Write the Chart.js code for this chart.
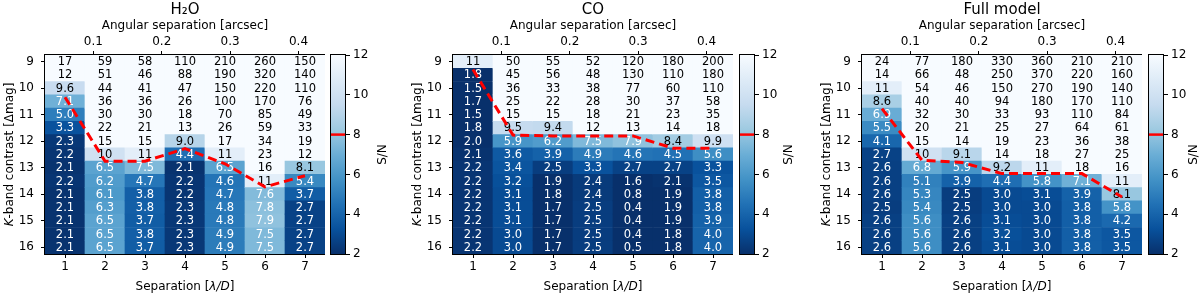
<!DOCTYPE html>
<html>
<head>
<meta charset="utf-8">
<script src="https://cdn.jsdelivr.net/npm/chart.js@4.4.0/dist/chart.umd.min.js"></script>
<style>
  body { margin: 0; background: #fff; width: 1200px; height: 294px; overflow: hidden; position: relative; }
  canvas { position: absolute; top: 0; }
</style>
</head>
<body>
<canvas id="map1" width="325" height="294" style="left:0px;width:325px;height:294px"></canvas>
<canvas id="bar1" width="70" height="294" style="left:330px;width:70px;height:294px"></canvas>
<canvas id="map2" width="325" height="294" style="left:408px;width:325px;height:294px"></canvas>
<canvas id="bar2" width="70" height="294" style="left:739px;width:70px;height:294px"></canvas>
<canvas id="map3" width="325" height="294" style="left:817px;width:325px;height:294px"></canvas>
<canvas id="bar3" width="52" height="294" style="left:1148px;width:52px;height:294px"></canvas>
<script>
// axes
const separations = [1, 2, 3, 4, 5, 6, 7];
const contrasts = [9, 9.5, 10, 10.5, 11, 11.5, 12, 12.5, 13, 13.5, 14, 14.5, 15, 15.5, 16];
const xTicks = [1, 2, 3, 4, 5, 6, 7];
const yTicks = [9, 10, 11, 12, 13, 14, 15, 16];
const angTicks = [0.1, 0.2, 0.3, 0.4];
const cbTicks = [2, 4, 6, 8, 10, 12];
const lambdaOverD = 0.0585; // arcsec per lambda/D
const snMin = 2, snMax = 12, snLevel = 8;

// S/N per column (separation 1..7), rows = contrast 9..16
const h2oSN = [
  [17, 12, 9.6, 7.1, 5.0, 3.3, 2.3, 2.2, 2.1, 2.2, 2.1, 2.1, 2.1, 2.1, 2.1],
  [59, 51, 44, 36, 30, 22, 15, 10, 6.5, 6.2, 6.1, 6.3, 6.5, 6.5, 6.5],
  [58, 46, 41, 36, 30, 21, 15, 11, 7.5, 4.7, 3.8, 3.8, 3.7, 3.8, 3.7],
  [110, 88, 47, 26, 18, 13, 9.0, 4.4, 2.1, 2.2, 2.2, 2.3, 2.3, 2.3, 2.3],
  [210, 190, 150, 100, 70, 26, 17, 11, 6.5, 4.6, 4.7, 4.8, 4.8, 4.9, 4.9],
  [260, 320, 220, 170, 85, 59, 34, 23, 16, 11, 7.6, 7.8, 7.9, 7.5, 7.5],
  [150, 140, 110, 76, 49, 33, 19, 12, 8.1, 5.4, 3.7, 2.7, 2.7, 2.7, 2.7]
];
const coSN = [
  [11, 1.8, 1.5, 1.7, 1.5, 1.8, 2.0, 2.1, 2.2, 2.2, 2.2, 2.2, 2.2, 2.2, 2.2],
  [50, 45, 36, 25, 15, 9.5, 5.9, 3.6, 3.4, 3.2, 3.1, 3.1, 3.1, 3.0, 3.0],
  [55, 56, 33, 22, 15, 9.4, 6.2, 3.9, 2.5, 1.9, 1.8, 1.7, 1.7, 1.7, 1.7],
  [52, 48, 38, 28, 18, 12, 7.5, 4.9, 3.3, 2.4, 2.4, 2.5, 2.5, 2.5, 2.5],
  [120, 130, 77, 30, 21, 13, 7.9, 4.6, 2.7, 1.6, 0.8, 0.4, 0.4, 0.4, 0.5],
  [180, 110, 60, 37, 23, 14, 8.4, 4.5, 2.7, 2.1, 1.9, 1.9, 1.9, 1.8, 1.8],
  [200, 180, 110, 58, 35, 18, 9.9, 5.6, 3.3, 3.5, 3.8, 3.8, 3.9, 4.0, 4.0]
];
const fullSN = [
  [24, 14, 11, 8.6, 6.9, 5.5, 4.1, 2.7, 2.6, 2.6, 2.6, 2.5, 2.6, 2.6, 2.6],
  [77, 66, 54, 40, 32, 20, 15, 10, 6.8, 5.1, 5.3, 5.4, 5.6, 5.6, 5.6],
  [180, 48, 46, 40, 30, 21, 14, 9.1, 5.9, 3.9, 2.5, 2.5, 2.6, 2.6, 2.6],
  [330, 250, 150, 94, 33, 25, 19, 14, 9.2, 4.4, 3.0, 3.0, 3.1, 3.2, 3.1],
  [360, 370, 270, 180, 93, 27, 23, 18, 11, 5.8, 3.1, 3.0, 3.0, 3.0, 3.0],
  [210, 220, 190, 170, 110, 64, 36, 27, 18, 7.1, 3.9, 3.8, 3.8, 3.8, 3.8],
  [210, 160, 140, 110, 84, 61, 38, 25, 16, 11, 8.1, 5.8, 4.2, 3.5, 3.5]
];

// S/N = 8 contour, contrast at each separation
const h2oContour = [10.34, 12.75, 12.75, 12.28, 12.85, 13.72, 13.3];
const coContour = [9.3, 11.77, 11.8, 11.8, 11.8, 12.26, 12.26];
const fullContour = [10.77, 12.72, 12.8, 13.22, 13.22, 13.22, 14.1];

// matplotlib Blues, dark -> light
const blues = ['#08306b', '#08519c', '#2171b5', '#4292c6', '#6baed6', '#9ecae1', '#c6dbef', '#deebf7', '#f7fbff'];
const FONT = '"DejaVu Sans", sans-serif';

function hexRgb(h) {
  return [parseInt(h.slice(1, 3), 16), parseInt(h.slice(3, 5), 16), parseInt(h.slice(5, 7), 16)];
}
function snColor(v) {
  let t = (v - snMin) / (snMax - snMin);
  t = Math.min(1, Math.max(0, t));
  const p = t * (blues.length - 1);
  const i = Math.min(Math.floor(p), blues.length - 2);
  const f = p - i;
  const a = hexRgb(blues[i]), b = hexRgb(blues[i + 1]);
  return 'rgb(' + a.map((c, k) => Math.round(c + (b[k] - c) * f)).join(',') + ')';
}
function fmt(v) {
  return v < 10 ? v.toFixed(1) : String(Math.round(v));
}
function drawRuns(ctx, runs, x, y, angle) {
  ctx.save();
  ctx.translate(x, y);
  ctx.rotate(angle);
  ctx.textBaseline = 'alphabetic';
  ctx.textAlign = 'left';
  ctx.fillStyle = '#000';
  let w = 0;
  runs.forEach(r => { ctx.font = r.font; w += ctx.measureText(r.text).width; });
  let cx = -w / 2;
  runs.forEach(r => { ctx.font = r.font; ctx.fillText(r.text, cx, 0); cx += ctx.measureText(r.text).width; });
  ctx.restore();
}

const cellText = {
  id: 'cellText',
  afterDatasetDraw(chart, args) {
    if (args.index !== 0) return;
    const {ctx, scales: {x, y}} = chart;
    ctx.save();
    ctx.font = '11.5px ' + FONT;
    ctx.textAlign = 'center';
    ctx.textBaseline = 'middle';
    chart.data.datasets[0].data.forEach(d => {
      ctx.fillStyle = d.v < snLevel ? '#fff' : '#000';
      ctx.fillText(fmt(d.v), x.getPixelForValue(d.x), y.getPixelForValue(d.c) + 0.5);
    });
    ctx.restore();
  }
};

const frame = {
  id: 'frame',
  afterDraw(chart, args, opts) {
    const {ctx, chartArea: a} = chart;
    ctx.save();
    ctx.strokeStyle = '#000';
    ctx.lineWidth = 1;
    ctx.strokeRect(a.left - 0.5, a.top - 0.5, a.right - a.left + 1, a.bottom - a.top + 1);
    ctx.fillStyle = '#000';
    ctx.font = '15px ' + FONT;
    ctx.textAlign = 'center';
    ctx.textBaseline = 'alphabetic';
    ctx.fillText(opts.title, (a.left + a.right) / 2, 13.5);
    const norm = '12px ' + FONT, ital = 'italic 12px ' + FONT;
    drawRuns(ctx, [{text: 'Separation [', font: norm}, {text: 'λ/D', font: ital}, {text: ']', font: norm}],
      (a.left + a.right) / 2, 290, 0);
    drawRuns(ctx, [{text: 'K', font: ital}, {text: '-band contrast [Δmag]', font: norm}],
      13, (a.top + a.bottom) / 2, -Math.PI / 2);
    ctx.restore();
  }
};

const colorBar = {
  id: 'colorBar',
  afterDraw(chart, args, opts) {
    const {ctx, chartArea: a, scales: {y}} = chart;
    ctx.save();
    const g = ctx.createLinearGradient(0, y.getPixelForValue(snMin), 0, y.getPixelForValue(snMax));
    blues.forEach((c, i) => g.addColorStop(i / (blues.length - 1), c));
    ctx.fillStyle = g;
    ctx.fillRect(a.left, a.top, a.right - a.left, a.bottom - a.top);
    const y8 = y.getPixelForValue(snLevel);
    ctx.strokeStyle = '#ff0000';
    ctx.lineWidth = 2.5;
    ctx.beginPath();
    ctx.moveTo(a.left, y8);
    ctx.lineTo(a.right, y8);
    ctx.stroke();
    ctx.strokeStyle = '#000';
    ctx.lineWidth = 1;
    ctx.strokeRect(a.left + 0.5, a.top - 0.5, a.right - a.left - 1, a.bottom - a.top + 1);
    drawRuns(ctx, [{text: 'S/N', font: '12px ' + FONT}], opts.labelX, (a.top + a.bottom) / 2, -Math.PI / 2);
    ctx.restore();
  }
};

const tickFont = {family: FONT, size: 12};
const tickGrid = {drawOnChartArea: false, tickLength: 4, color: '#000', tickColor: '#000', offset: false};

function makeMap(id, title, sn, contour) {
  const halfRow = (contrasts[1] - contrasts[0]) / 2;
  const cells = [];
  sn.forEach((col, i) => col.forEach((v, j) => {
    cells.push({x: separations[i], y: [contrasts[j] - halfRow, contrasts[j] + halfRow], v: v, c: contrasts[j]});
  }));
  const line = separations.map((s, i) => ({x: s, y: contour[i]}));
  const xMin = separations[0] - 0.5, xMax = separations[separations.length - 1] + 0.5;

  new Chart(document.getElementById(id), {
    type: 'bar',
    data: {
      datasets: [{
        type: 'bar',
        data: cells,
        backgroundColor: c => snColor(c.raw.v),
        borderWidth: 0,
        barPercentage: 1,
        categoryPercentage: 1,
        order: 1
      }, {
        type: 'line',
        data: line,
        borderColor: '#ff0000',
        borderWidth: 3,
        borderDash: [9, 5],
        pointRadius: 0,
        tension: 0,
        order: 0
      }]
    },
    options: {
      responsive: false,
      animation: false,
      devicePixelRatio: 1,
      layout: {padding: 0},
      plugins: {legend: {display: false}, tooltip: {enabled: false}, frame: {title: title}},
      scales: {
        x: {
          type: 'linear', position: 'bottom', min: xMin, max: xMax, offset: false,
          afterBuildTicks: s => { s.ticks = xTicks.map(v => ({value: v})); },
          afterFit: s => { s.height = 40; },
          ticks: {color: '#000', font: tickFont, padding: 2, maxRotation: 0, autoSkip: false, callback: v => String(v)},
          grid: tickGrid,
          border: {display: false}
        },
        x2: {
          type: 'linear', position: 'top', min: xMin * lambdaOverD, max: xMax * lambdaOverD, offset: false,
          afterBuildTicks: s => { s.ticks = angTicks.map(v => ({value: v})); },
          afterFit: s => { s.height = 55; },
          ticks: {color: '#000', font: tickFont, padding: 2, maxRotation: 0, autoSkip: false, callback: v => v.toFixed(1)},
          grid: tickGrid,
          border: {display: false},
          title: {display: true, text: 'Angular separation [arcsec]', color: '#000', font: tickFont, padding: {top: 19, bottom: 0}}
        },
        y: {
          type: 'linear', reverse: true,
          min: contrasts[0] - halfRow, max: contrasts[contrasts.length - 1] + halfRow,
          afterBuildTicks: s => { s.ticks = yTicks.map(v => ({value: v})); },
          afterFit: s => { s.width = 45; },
          ticks: {color: '#000', font: tickFont, padding: 7, autoSkip: false, callback: v => String(v)},
          grid: tickGrid,
          border: {display: false}
        }
      }
    },
    plugins: [cellText, frame]
  });
}

function makeBar(id, labelX) {
  const cv = document.getElementById(id);
  new Chart(cv, {
    type: 'scatter',
    data: {datasets: []},
    options: {
      responsive: false,
      animation: false,
      devicePixelRatio: 1,
      layout: {padding: {top: 55, bottom: 40, left: 0, right: 0}},
      plugins: {legend: {display: false}, tooltip: {enabled: false}, colorBar: {labelX: labelX}},
      scales: {
        x: {display: false, min: 0, max: 1},
        y: {
          position: 'right', min: snMin, max: snMax,
          afterBuildTicks: s => { s.ticks = cbTicks.map(v => ({value: v})); },
          afterFit: s => { s.width = cv.width - 16; },
          ticks: {color: '#000', font: tickFont, padding: 3, autoSkip: false, callback: v => String(v)},
          grid: tickGrid,
          border: {display: false}
        }
      }
    },
    plugins: [colorBar]
  });
}

makeMap('map1', 'H₂O', h2oSN, h2oContour);
makeMap('map2', 'CO', coSN, coContour);
makeMap('map3', 'Full model', fullSN, fullContour);
makeBar('bar1', 56);
makeBar('bar2', 52.5);
makeBar('bar3', 48.5);
</script>
</body>
</html>
